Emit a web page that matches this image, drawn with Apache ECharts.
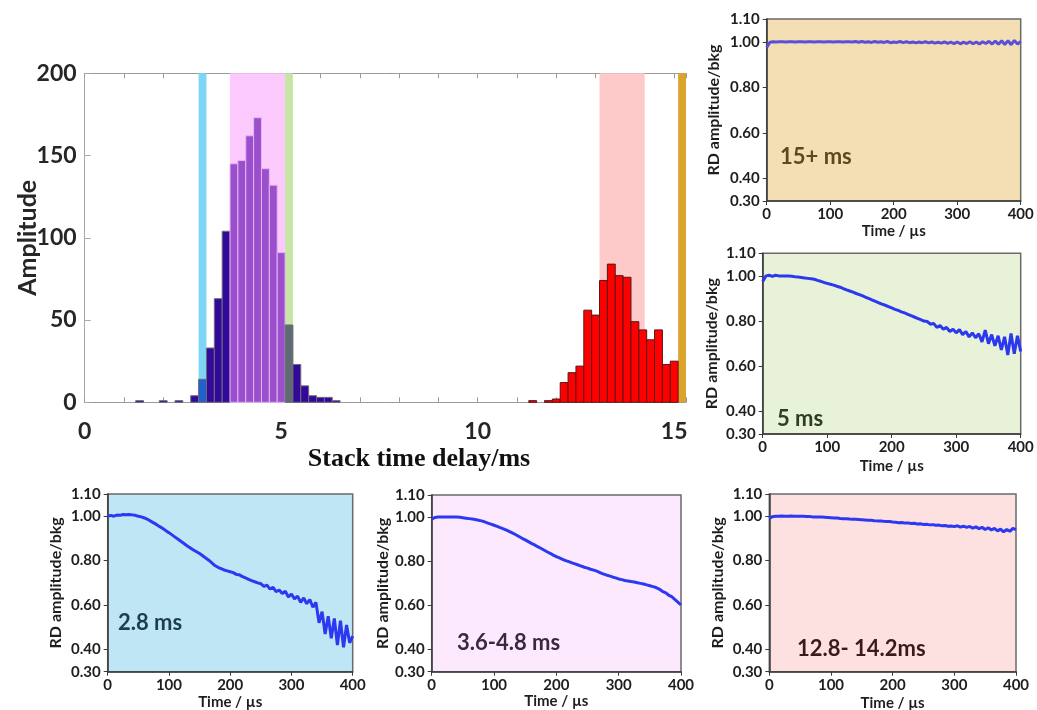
<!DOCTYPE html>
<html>
<head>
<meta charset="utf-8">
<script src="https://cdn.jsdelivr.net/npm/echarts@6/dist/echarts.min.js"></script>
<style>
  html, body { margin: 0; padding: 0; background: #ffffff; }
  #chart { width: 1037px; height: 710px; }
</style>
</head>
<body>
<div id="chart"></div>
<script>
// ---- Histogram of stack time delays (bins 0.2 ms wide) ----
const binCenters = [1.4, 2.0, 2.4, 2.8, 3.0, 3.2, 3.4, 3.6, 3.8, 4.0, 4.2, 4.4, 4.6, 4.8, 5.0, 5.2,
  5.4, 5.6, 5.8, 6.0, 6.2, 6.4, 11.4, 11.8, 12.0, 12.2, 12.4, 12.6, 12.8, 13.0, 13.2, 13.4, 13.6,
  13.8, 14.0, 14.2, 14.4, 14.6, 14.8, 15.0];
const binCounts = [1, 1, 1, 4, 14, 33, 63, 104, 145, 147, 162, 173, 142, 132, 91, 47,
  23, 10, 4, 3, 3, 1, 1, 1, 2, 12, 18, 22, 56, 53, 74, 84, 77,
  76, 49, 44, 38, 44, 23, 25];
const binWidth = 0.2;

// highlighted delay windows [start, end] in ms
const windowRanges = [[2.9, 3.1], [3.7, 5.1], [5.1, 5.3], [13.1, 14.25], [15.1, 15.3]];

const histXLabels = [0, 5, 10, 15];
const histYTicks = [0, 50, 100, 150, 200];

// ---- Ring-down traces, normalised to background ----
const timeUs = [0, 5, 10, 15, 20, 25, 30, 35, 40, 45, 50, 55, 60, 65, 70, 75, 80, 85, 90, 95,
  100, 105, 110, 115, 120, 125, 130, 135, 140, 145, 150, 155, 160, 165, 170, 175, 180, 185, 190, 195,
  200, 205, 210, 215, 220, 225, 230, 235, 240, 245, 250, 255, 260, 265, 270, 275, 280, 285, 290, 295,
  300, 305, 310, 315, 320, 325, 330, 335, 340, 345, 350, 355, 360, 365, 370, 375, 380, 385, 390, 395, 400];

const rd15plus = [0.975, 0.998, 1.000, 0.999, 1.000, 1.000, 0.999, 1.000, 1.000, 0.999,
  1.000, 1.000, 0.999, 1.000, 1.000, 0.999, 1.000, 1.000, 0.999, 1.000,
  1.000, 0.999, 1.000, 1.000, 0.999, 1.000, 1.000, 0.999, 1.001, 0.998,
  1.001, 0.998, 1.000, 0.997, 1.001, 0.998, 1.000, 0.997, 1.001, 0.996,
  0.999, 0.997, 1.001, 0.996, 1.000, 0.996, 0.999, 0.995, 0.999, 0.996,
  1.000, 0.995, 0.999, 0.994, 0.998, 0.994, 0.999, 0.993, 0.998, 0.992,
  0.999, 0.991, 0.998, 0.992, 1.000, 0.991, 0.999, 0.990, 1.000, 0.992,
  1.002, 0.990, 1.003, 0.989, 1.004, 0.988, 1.005, 0.987, 1.006, 0.990, 1.002];

const rd5ms = [0.975, 1.000, 1.003, 0.998, 1.003, 1.000, 1.000, 1.000, 0.999, 0.998,
  0.996, 0.995, 0.993, 0.991, 0.989, 0.987, 0.985, 0.980, 0.976, 0.971,
  0.967, 0.963, 0.959, 0.954, 0.950, 0.944, 0.938, 0.933, 0.928, 0.922,
  0.917, 0.911, 0.905, 0.899, 0.893, 0.887, 0.881, 0.875, 0.870, 0.864,
  0.858, 0.852, 0.847, 0.841, 0.836, 0.830, 0.824, 0.818, 0.812, 0.806,
  0.800, 0.798, 0.786, 0.790, 0.772, 0.780, 0.764, 0.772, 0.754, 0.764,
  0.748, 0.762, 0.740, 0.754, 0.730, 0.748, 0.726, 0.744, 0.708, 0.760,
  0.700, 0.740, 0.690, 0.735, 0.672, 0.730, 0.650, 0.745, 0.655, 0.735, 0.665];

const rd28ms = [1.000, 1.004, 1.000, 1.005, 1.004, 1.008, 1.007, 1.008, 1.006, 1.004,
  1.000, 0.997, 0.992, 0.986, 0.978, 0.970, 0.962, 0.953, 0.945, 0.935,
  0.926, 0.916, 0.906, 0.896, 0.886, 0.876, 0.866, 0.857, 0.848, 0.840,
  0.832, 0.822, 0.812, 0.802, 0.790, 0.778, 0.770, 0.764, 0.758, 0.754,
  0.750, 0.746, 0.738, 0.736, 0.728, 0.722, 0.716, 0.710, 0.705, 0.700,
  0.696, 0.684, 0.690, 0.672, 0.680, 0.660, 0.668, 0.652, 0.662, 0.636,
  0.650, 0.628, 0.640, 0.612, 0.632, 0.606, 0.625, 0.590, 0.612, 0.520,
  0.570, 0.470, 0.550, 0.450, 0.540, 0.420, 0.530, 0.410, 0.510, 0.430, 0.460];

const rd36to48 = [0.990, 0.998, 1.000, 1.000, 1.000, 1.000, 1.000, 1.000, 1.000, 0.999,
  0.997, 0.995, 0.993, 0.991, 0.989, 0.986, 0.983, 0.978, 0.973, 0.968,
  0.963, 0.958, 0.952, 0.947, 0.941, 0.934, 0.927, 0.920, 0.912, 0.904,
  0.897, 0.889, 0.881, 0.874, 0.866, 0.859, 0.851, 0.843, 0.836, 0.828,
  0.821, 0.815, 0.809, 0.803, 0.798, 0.793, 0.788, 0.783, 0.778, 0.773,
  0.769, 0.764, 0.760, 0.755, 0.749, 0.743, 0.738, 0.734, 0.729, 0.725,
  0.720, 0.717, 0.713, 0.711, 0.708, 0.706, 0.703, 0.700, 0.697, 0.693,
  0.689, 0.685, 0.681, 0.674, 0.664, 0.658, 0.647, 0.640, 0.627, 0.615, 0.602];

const rd128to142 = [0.990, 0.998, 1.000, 1.000, 1.001, 1.000, 1.000, 1.001, 1.000, 1.000,
  1.000, 1.000, 0.999, 0.999, 0.997, 0.997, 0.996, 0.996, 0.995, 0.994,
  0.993, 0.992, 0.992, 0.990, 0.989, 0.989, 0.987, 0.986, 0.986, 0.985,
  0.984, 0.983, 0.982, 0.982, 0.980, 0.979, 0.979, 0.977, 0.976, 0.976,
  0.974, 0.973, 0.971, 0.972, 0.969, 0.970, 0.967, 0.968, 0.965, 0.966,
  0.963, 0.964, 0.961, 0.962, 0.959, 0.960, 0.957, 0.958, 0.955, 0.956,
  0.953, 0.957, 0.951, 0.955, 0.950, 0.954, 0.946, 0.952, 0.944, 0.950,
  0.940, 0.948, 0.938, 0.945, 0.934, 0.942, 0.930, 0.940, 0.932, 0.945, 0.940];

const rdTicks = [0.3, 0.4, 0.6, 0.8, 1.0, 1.1];
const timeTicks = [0, 100, 200, 300, 400];

// ---- styling ----
const SANS = 'Lato, "Open Sans", sans-serif';
const SERIF = '"Liberation Serif", "Times New Roman", serif';
const windowColors = ['#7fd5f4', '#fbc9fb', '#c7e6a6', '#fdc9c9', '#dba52d'];

function barFill(x) {
  if (x >= 10) return '#ff0000';
  if (x >= windowRanges[0][0] && x < windowRanges[0][1]) return '#1f62cc';
  if (x >= windowRanges[1][0] && x < windowRanges[1][1]) return '#9b4fcc';
  if (x >= windowRanges[2][0] && x < windowRanges[2][1]) return '#5f6a72';
  return '#33099a';
}
function barStroke(x) {
  if (x >= 10) return '#5a1515';
  if (x >= windowRanges[1][0] && x < windowRanges[1][1]) return '#e2b6f2';
  return '#6d6d7a';
}

const panels = [
  { name: '15+ ms', data: rd15plus, bg: '#f3dfb3', line: '#5a4fd8', labelColor: '#5b4a1c',
    grid: { left: 766.7, top: 19, width: 254, height: 182 }, nameGapY: 45, nameGapX: 23,
    label: [780, 159] },
  { name: '5 ms', data: rd5ms, bg: '#e7f2d9', line: '#2b39ee', labelColor: '#2e3f1e',
    grid: { left: 762.7, top: 253.3, width: 258, height: 180.7 }, nameGapY: 43, nameGapX: 25,
    label: [777, 420.5] },
  { name: '2.8 ms', data: rd28ms, bg: '#bee6f5', line: '#2b39f0', labelColor: '#1d3e4d',
    grid: { left: 107.7, top: 494, width: 245, height: 177.7 }, nameGapY: 44, nameGapX: 23,
    label: [118, 624.5] },
  { name: '3.6-4.8 ms', data: rd36to48, bg: '#fde9fd', line: '#2b39f0', labelColor: '#3b2840',
    grid: { left: 431.7, top: 495, width: 249.3, height: 176.7 }, nameGapY: 40, nameGapX: 22,
    label: [457, 644.5] },
  { name: '12.8- 14.2ms', data: rd128to142, bg: '#fde1e1', line: '#2b39f0', labelColor: '#3b1a1e',
    grid: { left: 769.3, top: 494, width: 246.7, height: 177.7 }, nameGapY: 43, nameGapX: 24,
    label: [797, 651] }
];

const grids = [{ left: 84.6, top: 73.3, width: 601.4, height: 329, show: false, containLabel: false, outerBoundsMode: 'none' }];
const xAxes = [
  {
    gridIndex: 0, type: 'value', min: 0, max: 15.3, interval: 1, position: 'bottom',
    axisLine: { onZero: false, lineStyle: { color: '#9a9a9a', width: 1 } },
    axisTick: { inside: true, length: 5, lineStyle: { color: '#9a9a9a' } },
    axisLabel: { customValues: histXLabels, margin: 18, fontFamily: SANS, fontWeight: 'bold', fontSize: 23, color: '#262626' },
    splitLine: { show: false }
  },
  {
    gridIndex: 0, type: 'value', min: 0, max: 15.3, interval: 1, position: 'top',
    axisLine: { onZero: false, lineStyle: { color: '#9a9a9a', width: 1 } },
    axisTick: { inside: true, length: 5, lineStyle: { color: '#9a9a9a' } },
    axisLabel: { show: false }, splitLine: { show: false }
  }
];
const yAxes = [
  {
    gridIndex: 0, type: 'value', min: 0, max: 200, interval: 50,
    axisLine: { show: true, onZero: false, lineStyle: { color: '#a8a8a8', width: 1 } },
    axisTick: { show: true, inside: true, length: 6, customValues: histYTicks, lineStyle: { color: '#a8a8a8' } },
    axisLabel: { margin: 8, fontFamily: SANS, fontWeight: 'bold', fontSize: 23, color: '#262626' },
    splitLine: { show: false },
    name: 'Amplitude', nameLocation: 'middle', nameGap: 44, nameRotate: 90, nameMoveOverlap: false,
    nameTextStyle: { fontFamily: SANS, fontWeight: 'bold', fontSize: 25, color: '#262626' }
  }
];

const series = [
  {
    type: 'custom', xAxisIndex: 0, yAxisIndex: 0, z: 1, silent: true,
    data: windowRanges.map((r, i) => [r[0], r[1], i]),
    encode: { x: [0, 1] },
    renderItem: function (params, api) {
      const cs = params.coordSys;
      const a = api.coord([api.value(0), 0]);
      const b = api.coord([api.value(1), 0]);
      return {
        type: 'rect',
        shape: { x: a[0], y: cs.y, width: b[0] - a[0], height: cs.height },
        style: { fill: windowColors[api.value(2)] }
      };
    }
  },
  {
    type: 'custom', xAxisIndex: 0, yAxisIndex: 0, z: 3, silent: true,
    data: binCenters.map((c, i) => [c, binCounts[i]]),
    encode: { x: 0, y: 1 },
    renderItem: function (params, api) {
      const c = api.value(0), n = api.value(1);
      const p0 = api.coord([c - binWidth / 2, n]);
      const p1 = api.coord([c + binWidth / 2, 0]);
      return {
        type: 'rect',
        shape: { x: p0[0], y: p0[1], width: p1[0] - p0[0], height: p1[1] - p0[1] },
        style: { fill: barFill(c), stroke: barStroke(c), lineWidth: 1 }
      };
    }
  }
];

// x-axis title of the histogram
const graphics = [{
  type: 'text', x: 419, y: 459, z: 10, silent: true,
  style: { text: 'Stack time delay/ms', fontFamily: SERIF, fontWeight: 'bold', fontSize: 26,
    fill: '#111', align: 'center', verticalAlign: 'middle' }
}];

panels.forEach((p, k) => {
  const gi = k + 1;
  grids.push(Object.assign({ show: true, backgroundColor: p.bg, borderColor: '#6a6a6a', borderWidth: 1.5,
    containLabel: false, outerBoundsMode: 'none' }, p.grid));
  const xi = xAxes.length;
  xAxes.push({
    gridIndex: gi, type: 'value', min: 0, max: 400, interval: 100,
    axisLine: { onZero: false, lineStyle: { color: '#3a3a3a', width: 1.5 } },
    axisTick: { show: true, length: 4, customValues: timeTicks, lineStyle: { color: '#3a3a3a' } },
    axisLabel: { margin: 6, fontFamily: SANS, fontWeight: 'bold', fontSize: 15, color: '#1e1e1e' },
    splitLine: { show: false },
    name: 'Time / µs', nameLocation: 'middle', nameGap: p.nameGapX,
    nameTextStyle: { fontFamily: SANS, fontWeight: 'bold', fontSize: 15, color: '#1e1e1e' }
  });
  const yi = yAxes.length;
  yAxes.push({
    gridIndex: gi, type: 'value', min: 0.3, max: 1.1, interval: 0.1,
    axisLine: { show: true, onZero: false, lineStyle: { color: '#3a3a3a', width: 1.5 } },
    axisTick: { show: true, length: 4, customValues: rdTicks, lineStyle: { color: '#3a3a3a' } },
    axisLabel: { customValues: rdTicks, margin: 7, formatter: v => v.toFixed(2),
      fontFamily: SANS, fontWeight: 'bold', fontSize: 15, color: '#1e1e1e' },
    splitLine: { show: false },
    name: 'RD amplitude/bkg', nameLocation: 'middle', nameGap: p.nameGapY, nameRotate: 90,
    nameTextStyle: { fontFamily: SANS, fontWeight: 'bold', fontSize: 16, color: '#1e1e1e' }
  });
  series.push({
    type: 'line', xAxisIndex: xi, yAxisIndex: yi, z: 3, silent: true,
    showSymbol: false, symbol: 'none', smooth: false,
    data: timeUs.map((t, i) => [t, p.data[i]]),
    lineStyle: { color: p.line, width: 3 }
  });
  graphics.push({
    type: 'text', left: p.label[0], top: p.label[1] - 13, z: 10, silent: true,
    style: { text: p.name, fontFamily: SANS, fontWeight: 'bold', fontSize: 22, fill: p.labelColor }
  });
});

const chart = echarts.init(document.getElementById('chart'), null, { renderer: 'canvas' });
chart.setOption({
  animation: false,
  backgroundColor: '#ffffff',
  textStyle: { fontFamily: SANS },
  grid: grids,
  xAxis: xAxes,
  yAxis: yAxes,
  series: series,
  graphic: graphics
});
</script>
</body>
</html>
